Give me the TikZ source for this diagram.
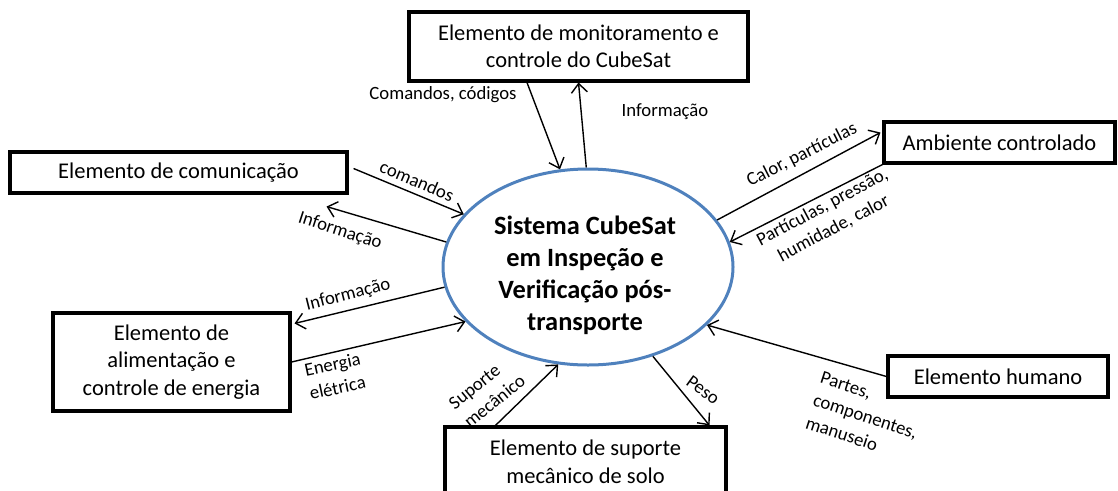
\documentclass[tikz,border=0pt]{standalone}
\usepackage{fontspec}
\setmainfont{Carlito}
\usetikzlibrary{arrows.meta,shapes.geometric}
\definecolor{ellblue}{RGB}{79,129,189}
\begin{document}
\begin{tikzpicture}[x=1pt,y=-1pt,
 box/.style={draw,line width=3.1pt,inner sep=0pt,align=center,font=\fontsize{22.5}{27.5}\selectfont},
 lbl/.style={inner sep=0pt,align=center,font=\fontsize{18.7}{24}\selectfont},
 flow/.style={line width=1.4pt,-{Straight Barb[length=9pt,width=16pt,line width=1.4pt]}},
]
\useasboundingbox (0,0) rectangle (1118,490);
\node[box,minimum width=339pt,minimum height=69pt] (mon) at (578.5,46.5) {Elemento de monitoramento e\\controle do CubeSat};
\node[box,minimum width=337pt,minimum height=41pt] (com) at (178.5,172.5) {Elemento de comunicação};
\node[box,minimum width=237pt,minimum height=98pt] (ali) at (171.5,362) {Elemento de\\alimentação e\\controle de energia};
\node[box,minimum width=231pt,minimum height=41pt] (amb) at (999.5,142.5) {Ambiente controlado};
\node[box,minimum width=220pt,minimum height=41pt] (hum) at (998,376.5) {Elemento humano};
\node[box,minimum width=281pt,minimum height=70pt] (sup) at (585.5,462) {Elemento de suporte\\mecânico de solo};
\node[ellipse,draw=ellblue,line width=3pt,minimum width=290pt,minimum height=196pt,inner sep=0pt] (sys) at (588,267) {};
\node[inner sep=0pt,align=center,font=\bfseries\fontsize{26.4}{32}\selectfont] (systxt) at (585,275) {Sistema CubeSat\\em Inspeção e\\Verificação pós-\\transporte};

\draw[flow] ([xshift=-51.5pt]mon.south) -- (sys.106.6);
\draw[flow] (sys.91.2) -- (mon.south);
\draw[flow] ([yshift=4pt,xshift=5pt]com.east) -- (sys.157.6);
\draw[flow] (sys.170.7) -- ([xshift=-22pt,yshift=-12pt]com.south east);
\draw[flow] (sys.188) -- ([xshift=3pt,yshift=-12pt]ali.north east);
\draw[flow] (ali.east) -- (sys.204.7);
\draw[flow] ([xshift=52pt]sup.north west) -- (sys.253.5);
\draw[flow] (sys.306) -- ([xshift=-18pt]sup.north east);
\draw[flow] (hum.west) -- (sys.334.8);
\draw[flow] (sys.20.9) -- ([yshift=10pt,xshift=-2pt]amb.west);
\draw[flow] (amb.south west) -- (sys.10.9);

\node[lbl] (l1) at (443,95) {Comandos, códigos};
\node[lbl] (l2) at (665,112) {Informação};
\node[lbl,rotate=-23] (l3) at (417,181) {comandos};
\node[lbl,rotate=-18] (l4) at (340,231) {Informação};
\node[lbl,rotate=14] (l5) at (348,295) {Informação};
\node[lbl,rotate=12,align=left] (l6) at (335,376) {Energia\\elétrica};
\node[lbl,rotate=39,align=left] (l7) at (487,392) {Suporte\\mecânico};
\node[lbl,rotate=-36] (l8) at (703,390) {Peso};
\node[lbl,rotate=-18,align=left,anchor=north west] (l9) at (823,371) {Partes,\\componentes,\\manuseio};
\node[lbl,rotate=27] (l10) at (802,155) {Calor, partículas};
\node[lbl,rotate=28] (l11) at (828,218) {Partículas, pressão,\\humidade, calor};
\end{tikzpicture}
\end{document}
